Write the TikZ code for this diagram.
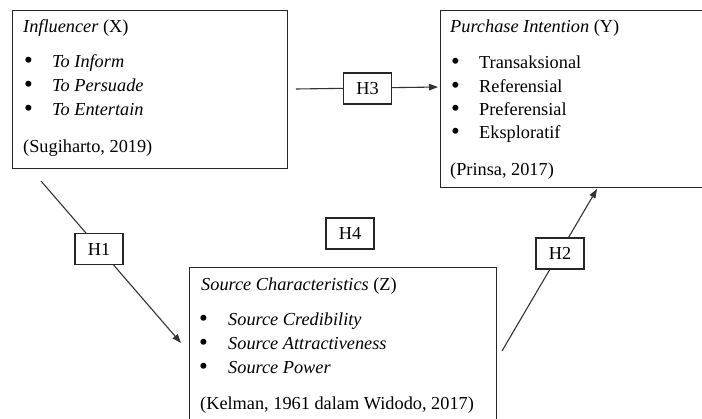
\documentclass[tikz,border=0pt]{standalone}
\usepackage{fontspec}
\setmainfont{Liberation Serif}
\usetikzlibrary{arrows.meta}
\begin{document}
\begin{tikzpicture}[x=1pt,y=-1pt,
  box/.style={draw=black!85,line width=1.4pt,inner sep=0pt,anchor=north west},
  hbox/.style={draw=black!85,fill=white,line width=1.2pt,minimum width=48pt,minimum height=31pt,inner sep=0pt,font=\fontsize{18.3}{22}\selectfont},
  txt/.style={anchor=base west,inner sep=0pt,font=\fontsize{18.3}{22}\selectfont},
  bul/.style={anchor=base,inner sep=0pt,yshift=-1.5pt,font=\fontsize{25}{28}\selectfont},
  conn/.style={draw=black!80,line width=1.1pt,-{Triangle[length=9pt,width=6.5pt]}}]
\useasboundingbox (0,0) rectangle (702,418);
\fill[white] (0,0) rectangle (702,418);
\begin{scope}
\clip (0,0) rectangle (702,418);
% boxes
\node[box,minimum width=275pt,minimum height=158pt] (X) at (12,10) {};
\node[box,minimum width=265pt,minimum height=177pt] (Y) at (440,9.5) {};
\node[box,minimum width=307pt,minimum height=160pt] (Z) at (189,267) {};
% box X text
\node[txt] (xt) at (23,32) {\textit{Influencer} (X)};
\node[bul] (xb1) at (28.5,67) {\textbullet};
\node[bul] (xb2) at (28.5,91) {\textbullet};
\node[bul] (xb3) at (28.5,115) {\textbullet};
\node[txt] (x1) at (52,67) {\textit{To Inform}};
\node[txt] (x2) at (52,91) {\textit{To Persuade}};
\node[txt] (x3) at (52,115) {\textit{To Entertain}};
\node[txt] (xc) at (23,152) {(Sugiharto, 2019)};
% box Y text
\node[txt] (yt) at (450,32) {\textit{Purchase Intention} (Y)};
\node[bul] (yb1) at (455.5,68) {\textbullet};
\node[bul] (yb2) at (455.5,92) {\textbullet};
\node[bul] (yb3) at (455.5,115) {\textbullet};
\node[bul] (yb4) at (455.5,138) {\textbullet};
\node[txt] (y1) at (479,68) {Transaksional};
\node[txt] (y2) at (479,92) {Referensial};
\node[txt] (y3) at (479,115) {Preferensial};
\node[txt] (y4) at (479,138) {Eksploratif};
\node[txt] (yc) at (450,175) {(Prinsa, 2017)};
% box Z text
\node[txt] (zt) at (201,290) {\textit{Source Characteristics} (Z)};
\node[bul] (zb1) at (203.5,325) {\textbullet};
\node[bul] (zb2) at (203.5,349) {\textbullet};
\node[bul] (zb3) at (203.5,373) {\textbullet};
\node[txt] (z1) at (228,325) {\textit{Source Credibility}};
\node[txt] (z2) at (228,349) {\textit{Source Attractiveness}};
\node[txt] (z3) at (228,373) {\textit{Source Power}};
\node[txt] (zc) at (200,409) {(Kelman, 1961 dalam Widodo, 2017)};
% connector ends
\coordinate (h1s) at (41,181);
\coordinate (h1e) at (181,343);
\coordinate (h3s) at (296,89);
\coordinate (h3e) at (438,87);
\coordinate (h2s) at (502,351);
\coordinate (h2e) at (597,189);
\draw[conn] (h1s) -- (h1e);
\draw[conn] (h3s) -- (h3e);
\draw[conn] (h2s) -- (h2e);
% hypothesis labels
\node[hbox] (H1) at (99,249) {H1};
\node[hbox] (H3) at (367.5,88.5) {H3};
\node[hbox] (H2) at (560,253.5) {H2};
\node[hbox] (H4) at (350,233.5) {H4};
\end{scope}
\end{tikzpicture}
\end{document}
